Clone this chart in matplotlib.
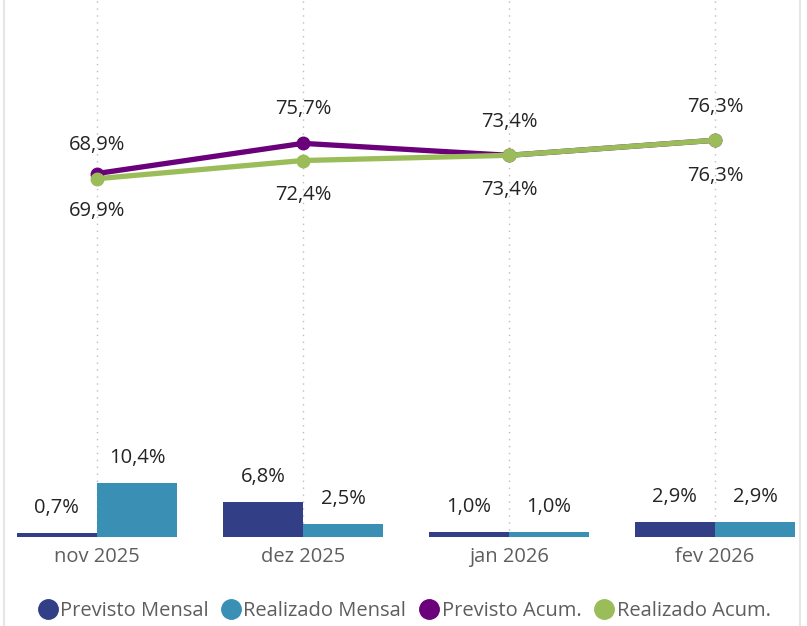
import matplotlib
matplotlib.use("Agg")
import matplotlib.pyplot as plt
from matplotlib.lines import Line2D
import numpy as np

categories = ["nov 2025", "dez 2025", "jan 2026", "fev 2026"]
previsto_mensal = [0.7, 6.8, 1.0, 2.9]
realizado_mensal = [10.4, 2.5, 1.0, 2.9]
previsto_acum = [69.9, 75.7, 73.4, 76.3]
realizado_acum = [68.9, 72.4, 73.4, 76.3]

C_PM = "#323F86"
C_RM = "#3A8FB5"
C_PA = "#6A007A"
C_RA = "#9BBD59"

plt.rcParams['font.family'] = ['Open Sans', 'DejaVu Sans']

def fmt(v):
    return f"{v:.1f}%".replace(".", ",")

fig = plt.figure(figsize=(8.07, 6.26), dpi=100)
ax = fig.add_axes([0, 89/626, 1, 537/626])
x = np.arange(len(categories))
w = 0.39
ax.set_xlim(-97/206, (807-97)/206)
ax.set_ylim(0, 537/5.2)

for xi in x:
    ax.axvline(xi, color="#bdbdbd", lw=1, ls=(0, (1, 4)), zorder=0)

b1 = ax.bar(x - w/2, previsto_mensal, w, color=C_PM, zorder=2)
b2 = ax.bar(x + w/2, realizado_mensal, w, color=C_RM, zorder=2)

FS = 14.5
for rects, vals in ((b1, previsto_mensal), (b2, realizado_mensal)):
    for r, v in zip(rects, vals):
        ax.annotate(fmt(v), (r.get_x() + r.get_width()/2, v), xytext=(0, 18),
                    textcoords="offset points", ha="center", va="center",
                    fontsize=FS, color="#252423")

ax.plot(x, previsto_acum, color=C_PA, lw=3.8, marker="o", ms=9, zorder=3,
        solid_capstyle="round")
ax.plot(x, realizado_acum, color=C_RA, lw=3.8, marker="o", ms=9, zorder=4,
        solid_capstyle="round")

pa_off = [-27, 25, 24, 24]
ra_off = [24, -25, -25, -26]
for xi, v, o in zip(x, previsto_acum, pa_off):
    ax.annotate(fmt(v), (xi, v), xytext=(0, o), textcoords="offset points",
                ha="center", va="center", fontsize=FS, color="#252423")
for xi, v, o in zip(x, realizado_acum, ra_off):
    ax.annotate(fmt(v), (xi, v), xytext=(0, o), textcoords="offset points",
                ha="center", va="center", fontsize=FS, color="#252423")

ax.set_xticks(x)
ax.set_xticklabels(categories, fontsize=14.5, color="#605E5C")
ax.tick_params(axis="x", length=0, pad=7)
ax.set_yticks([])
for s in ax.spines.values():
    s.set_visible(False)

# panel borders
fig.add_artist(Line2D([4/807, 4/807], [0, 1], color="#e6e6e6", lw=1.5))
fig.add_artist(Line2D([800/807, 800/807], [0, 1], color="#e6e6e6", lw=1.5))

handles = [Line2D([], [], marker="o", ls="", ms=14, color=c) for c in (C_PM, C_RM, C_PA, C_RA)]
labels = ["Previsto Mensal", "Realizado Mensal", "Previsto Acum.", "Realizado Acum."]
fig.legend(handles, labels, loc="center", bbox_to_anchor=(403/807, 1 - 611/626),
           ncol=4, frameon=False, fontsize=14.5, labelcolor="#605E5C",
           handletextpad=0.0, columnspacing=0.55, handlelength=1.2)

fig.savefig("out.png", dpi=100)
